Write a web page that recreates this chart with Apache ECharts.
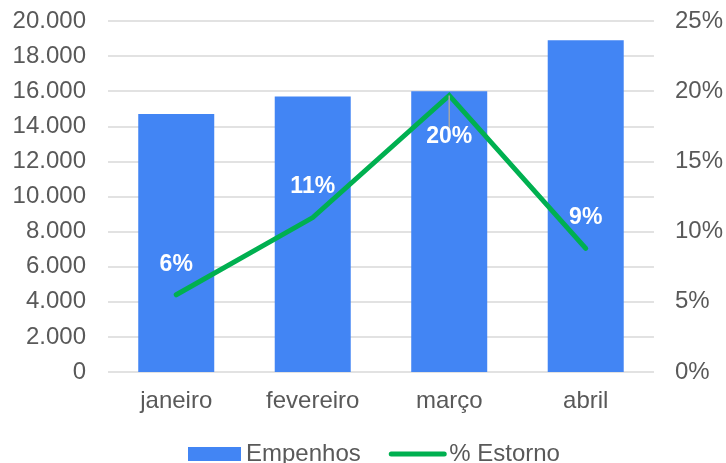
<!DOCTYPE html>
<html>
<head>
<meta charset="utf-8">
<script src="https://cdn.jsdelivr.net/npm/echarts@6/dist/echarts.min.js"></script>
<style>
  html, body { margin: 0; padding: 0; background: #fff; }
  #chart { width: 726px; height: 463px; }
</style>
</head>
<body>
<div id="chart"></div>
<script>
// data
const months = ['janeiro', 'fevereiro', 'março', 'abril']
const empenhos = [14700, 15700, 16000, 18900]
const estorno = [5.5, 11, 19.7, 8.8] // percent

const fmtThousands = v => String(v).replace(/\B(?=(\d{3})+(?!\d))/g, '.')

const chart = echarts.init(document.getElementById('chart'))
const font = 'Liberation Sans, Arial, sans-serif'

chart.setOption({
  animation: false,
  textStyle: { fontFamily: font },
  grid: {
    left: 108,
    right: 71,
    top: 21,
    bottom: 91
  },
  legend: {
    data: [
      { name: 'Empenhos', icon: 'rect' },
      { name: '% Estorno', itemStyle: { opacity: 0 }, lineStyle: { width: 5, color: '#00B050', cap: 'round' } }
    ],
    left: 183,
    top: 437,
    itemWidth: 53,
    itemHeight: 14,
    itemGap: 28,
    textStyle: { color: '#595959', fontSize: 24, fontFamily: font }
  },
  xAxis: {
    type: 'category',
    data: months,
    axisLine: { show: false },
    axisTick: { show: false },
    axisLabel: { color: '#595959', fontSize: 24, margin: 17 }
  },
  yAxis: [{
    type: 'value',
    min: 0,
    max: 20000,
    interval: 2000,
    axisLine: { show: false },
    axisTick: { show: false },
    splitLine: { lineStyle: { color: '#d9d9d9', width: 1.5 } },
    axisLabel: {
      color: '#595959',
      fontSize: 24,
      margin: 22,
      formatter: v => fmtThousands(v)
    }
  }, {
    type: 'value',
    min: 0,
    max: 25,
    interval: 5,
    axisLine: { show: false },
    axisTick: { show: false },
    splitLine: { show: false },
    axisLabel: {
      color: '#595959',
      fontSize: 24,
      margin: 21,
      formatter: '{value}%'
    }
  }],
  series: [{
    name: 'Empenhos',
    type: 'bar',
    data: empenhos,
    barWidth: 76,
    itemStyle: { color: '#4285F4' }
  }, {
    name: '% Estorno',
    type: 'line',
    yAxisIndex: 1,
    symbol: 'circle',
    symbolSize: 0,
    showSymbol: true,
    data: estorno.map((v, i) => {
      if (i === 2) {
        return {
          value: v,
          label: { position: 'bottom', distance: 30 },
          labelLine: { show: true, lineStyle: { color: '#a6a6a6', width: 1.5 } }
        }
      }
      return v
    }),
    lineStyle: { color: '#00B050', width: 5, cap: 'round', join: 'miter' },
    itemStyle: { color: '#00B050' },
    label: {
      show: true,
      position: 'top',
      distance: 19,
      color: '#ffffff',
      fontWeight: 'bold',
      fontSize: 23,
      formatter: p => Math.round(p.value) + '%'
    },
    z: 3
  }]
})
</script>
</body>
</html>
